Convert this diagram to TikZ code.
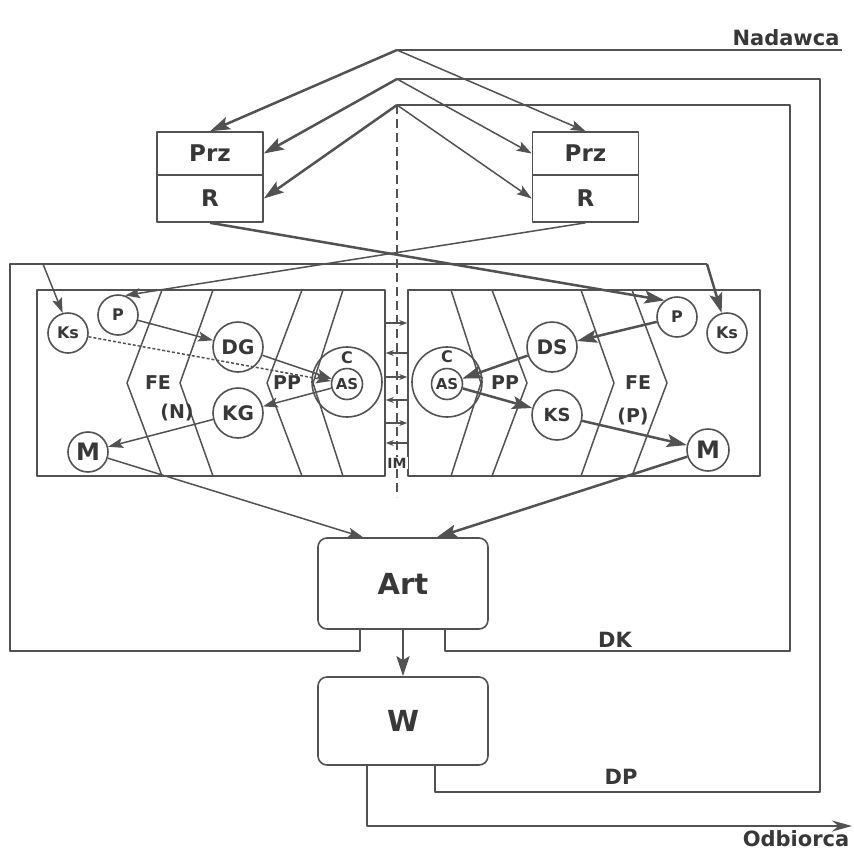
\documentclass[tikz,border=0pt]{standalone}
\usepackage{fontspec}
\setsansfont{DejaVu Sans}
\usetikzlibrary{arrows.meta}
\definecolor{ink}{gray}{0.32}
\definecolor{txt}{gray}{0.22}

\begin{document}
\begin{tikzpicture}[x=1pt,y=-1pt,line join=round,
  every node/.style={text=txt,font=\sffamily\bfseries},
  fs/.style={font=\sffamily\bfseries\fontsize{#1}{#1}\selectfont},
  frame/.style={draw=ink,line width=2.9pt},
  thinl/.style={draw=ink,line width=1.5pt},
  thickl/.style={draw=ink,line width=2.5pt},
  arr/.style={thinl,-{Stealth[length=15pt,width=10pt,inset=3pt]}},
  arrb/.style={thickl,-{Stealth[length=20pt,width=13pt,inset=4pt]}},
  imarr/.style={draw=ink,line width=1.1pt,-{Stealth[length=8pt,width=6pt]}},
  circ/.style={circle,draw=ink,line width=1.6pt,fill=white,inner sep=0pt},
  box/.style={rectangle,draw=ink,line width=1.6pt,minimum width=106pt,inner sep=0pt},
  rbox/.style={rectangle,rounded corners=9pt,draw=ink,line width=1.6pt,minimum width=170pt,inner sep=0pt}]
  \useasboundingbox (0,0) rectangle (854,852);
  % sender and receiver
  \node[fs=21,anchor=base] (nad) at (786,45) {Nadawca};
  \node[fs=21,anchor=base] (odbl) at (796,846) {Odbiorca};
  \coordinate (a1) at (397,50);
  \coordinate (a2) at (397,79);
  \coordinate (a3) at (397,105);
  \coordinate (nd) at (842,50);
  \coordinate (odb) at (852,826);
  \coordinate (dkl) at (43,264);
  \coordinate (dkr) at (707,264);
  \coordinate (imb) at (397,497);
  % Prz / R boxes
  \node[box,minimum height=43pt,fs=23] (prz1) at (210,153.5) {Prz};
  \node[box,minimum height=47pt,fs=23] (r1) at (210,198.5) {R};
  \node[box,minimum height=43pt,fs=23] (prz2) at (585.5,153.5) {Prz};
  \node[box,minimum height=47pt,fs=23] (r2) at (585.5,198.5) {R};
  % inner fields
  \node[draw=ink,line width=1.6pt,minimum width=348pt,minimum height=186pt,inner sep=0pt] (lbox) at (211,383) {};
  \node[draw=ink,line width=1.6pt,minimum width=352pt,minimum height=186pt,inner sep=0pt] (rbox) at (584,383) {};
  \foreach \t/\a in {162/127,213/180,302/267,343/313} {
    \draw[thinl] (\t,290) -- (\a,383) -- (\t,476);
    \draw[thinl] ({794-\t},290) -- ({794-\a},383) -- ({794-\t},476);
  }
  % DK and DP loops
  \draw[frame] (a1) -- (nd);
  \node[rbox,minimum height=91pt,fs=29] (art) at (403,583.5) {Art};
  \node[rbox,minimum height=88pt,fs=29] (w) at (403,721) {W};
  \draw[frame] (a3) -- (790,105) |- (445,651) -- ([xshift=42pt]art.south);
  \draw[frame] ([xshift=-43pt]art.south) |- (10,651) -- (10,264) -- (dkr);
  \draw[frame] ([xshift=32pt]w.south) |- (820,792) |- (a2);
  \draw[frame,-{Stealth[length=20pt,width=11pt]}] ([xshift=-36pt]w.south) |- (odb);
  \node[fs=21,anchor=base] (dk) at (615,647) {DK};
  \node[fs=21,anchor=base] (dp) at (621,784) {DP};
  % IM
  \draw[ink,line width=1.5pt,dash pattern=on 9pt off 5pt] (a3) -- (imb);
  \foreach \y in {323,377,423} {\draw[imarr] (lbox.east |- 0,\y) -- (rbox.west |- 0,\y);}
  \foreach \y in {353,400,443} {\draw[imarr] (rbox.west |- 0,\y) -- (lbox.east |- 0,\y);}
  \node[fs=14,fill=white,inner sep=1pt] (im) at (397,463) {IM};
  % circles, left
  \node[circ,minimum size=40pt,fs=16] (ks1) at (68,333) {Ks};
  \node[circ,minimum size=40pt,fs=16] (p1) at (118,315) {P};
  \node[circ,minimum size=50pt,fs=20] (dg) at (238,347) {DG};
  \node[circ,minimum size=50pt,fs=20] (kg) at (238,413) {KG};
  \node[circ,minimum size=40pt,fs=24] (m1) at (88,452) {M};
  \node[circle,draw=ink,line width=1.6pt,minimum size=70pt] (c1) at (347,382) {};
  \node[circ,minimum size=31pt,fs=15] (as1) at (347,384) {AS};
  \node[fs=16] (cl1) at (347,358) {C};
  \node[fs=19] (fe1) at (158,383) {FE};
  \node[fs=19] (n1) at (177,413) {(N)};
  \node[fs=19] (pp1) at (287,383) {PP};
  % circles, right
  \node[circ,minimum size=40pt,fs=16] (p2) at (677,317) {P};
  \node[circ,minimum size=40pt,fs=16] (ks2) at (727,333) {Ks};
  \node[circ,minimum size=50pt,fs=20] (ds) at (552,347) {DS};
  \node[circ,minimum size=50pt,fs=18] (ks3) at (557,415) {KS};
  \node[circ,minimum size=42pt,fs=24] (m2) at (708,450) {M};
  \node[circle,draw=ink,line width=1.6pt,minimum size=70pt] (c2) at (447,382) {};
  \node[circ,minimum size=31pt,fs=15] (as2) at (447,384) {AS};
  \node[fs=16] (cl2) at (447,357) {C};
  \node[fs=19] (fe2) at (638,383) {FE};
  \node[fs=19] (n2) at (633,417) {(P)};
  \node[fs=19] (pp2) at (505,383) {PP};
  % arrows from the sender
  \draw[arrb] (a1) -- (prz1.north);
  \draw[arrb] (a2) -- (prz1.east);
  \draw[arrb] (a3) -- (r1.east);
  \draw[arr] (a1) -- (prz2.north);
  \draw[arr] (a2) -- (prz2.west);
  \draw[arr] (a3) -- (r2.west);
  \draw[arrb] (r1.south) -- (p2.127);
  \draw[arr] (r2.south) -- (p1.70);
  \draw[arr] (dkl) -- (ks1.105);
  \draw[arrb] (dkr) -- (ks2.105);
  % inner arrows
  \draw[arr] (p1) -- (dg);
  \draw[arr,dash pattern=on 3pt off 2pt] (ks1) -- (as1);
  \draw[arr] (dg) -- (as1);
  \draw[arr] (as1) -- (kg);
  \draw[arr] (kg) -- (m1);
  \draw[arrb] (p2) -- (ds);
  \draw[arrb] (ds) -- (as2);
  \draw[arrb] (as2) -- (ks3);
  \draw[arrb] (ks3) -- (m2);
  \draw[arr] (m1) -- ([xshift=-40pt]art.north);
  \draw[arrb] (m2) -- ([xshift=34pt]art.north);
  \draw[arrb] (art.south) -- (w.north);
\end{tikzpicture}
\end{document}
